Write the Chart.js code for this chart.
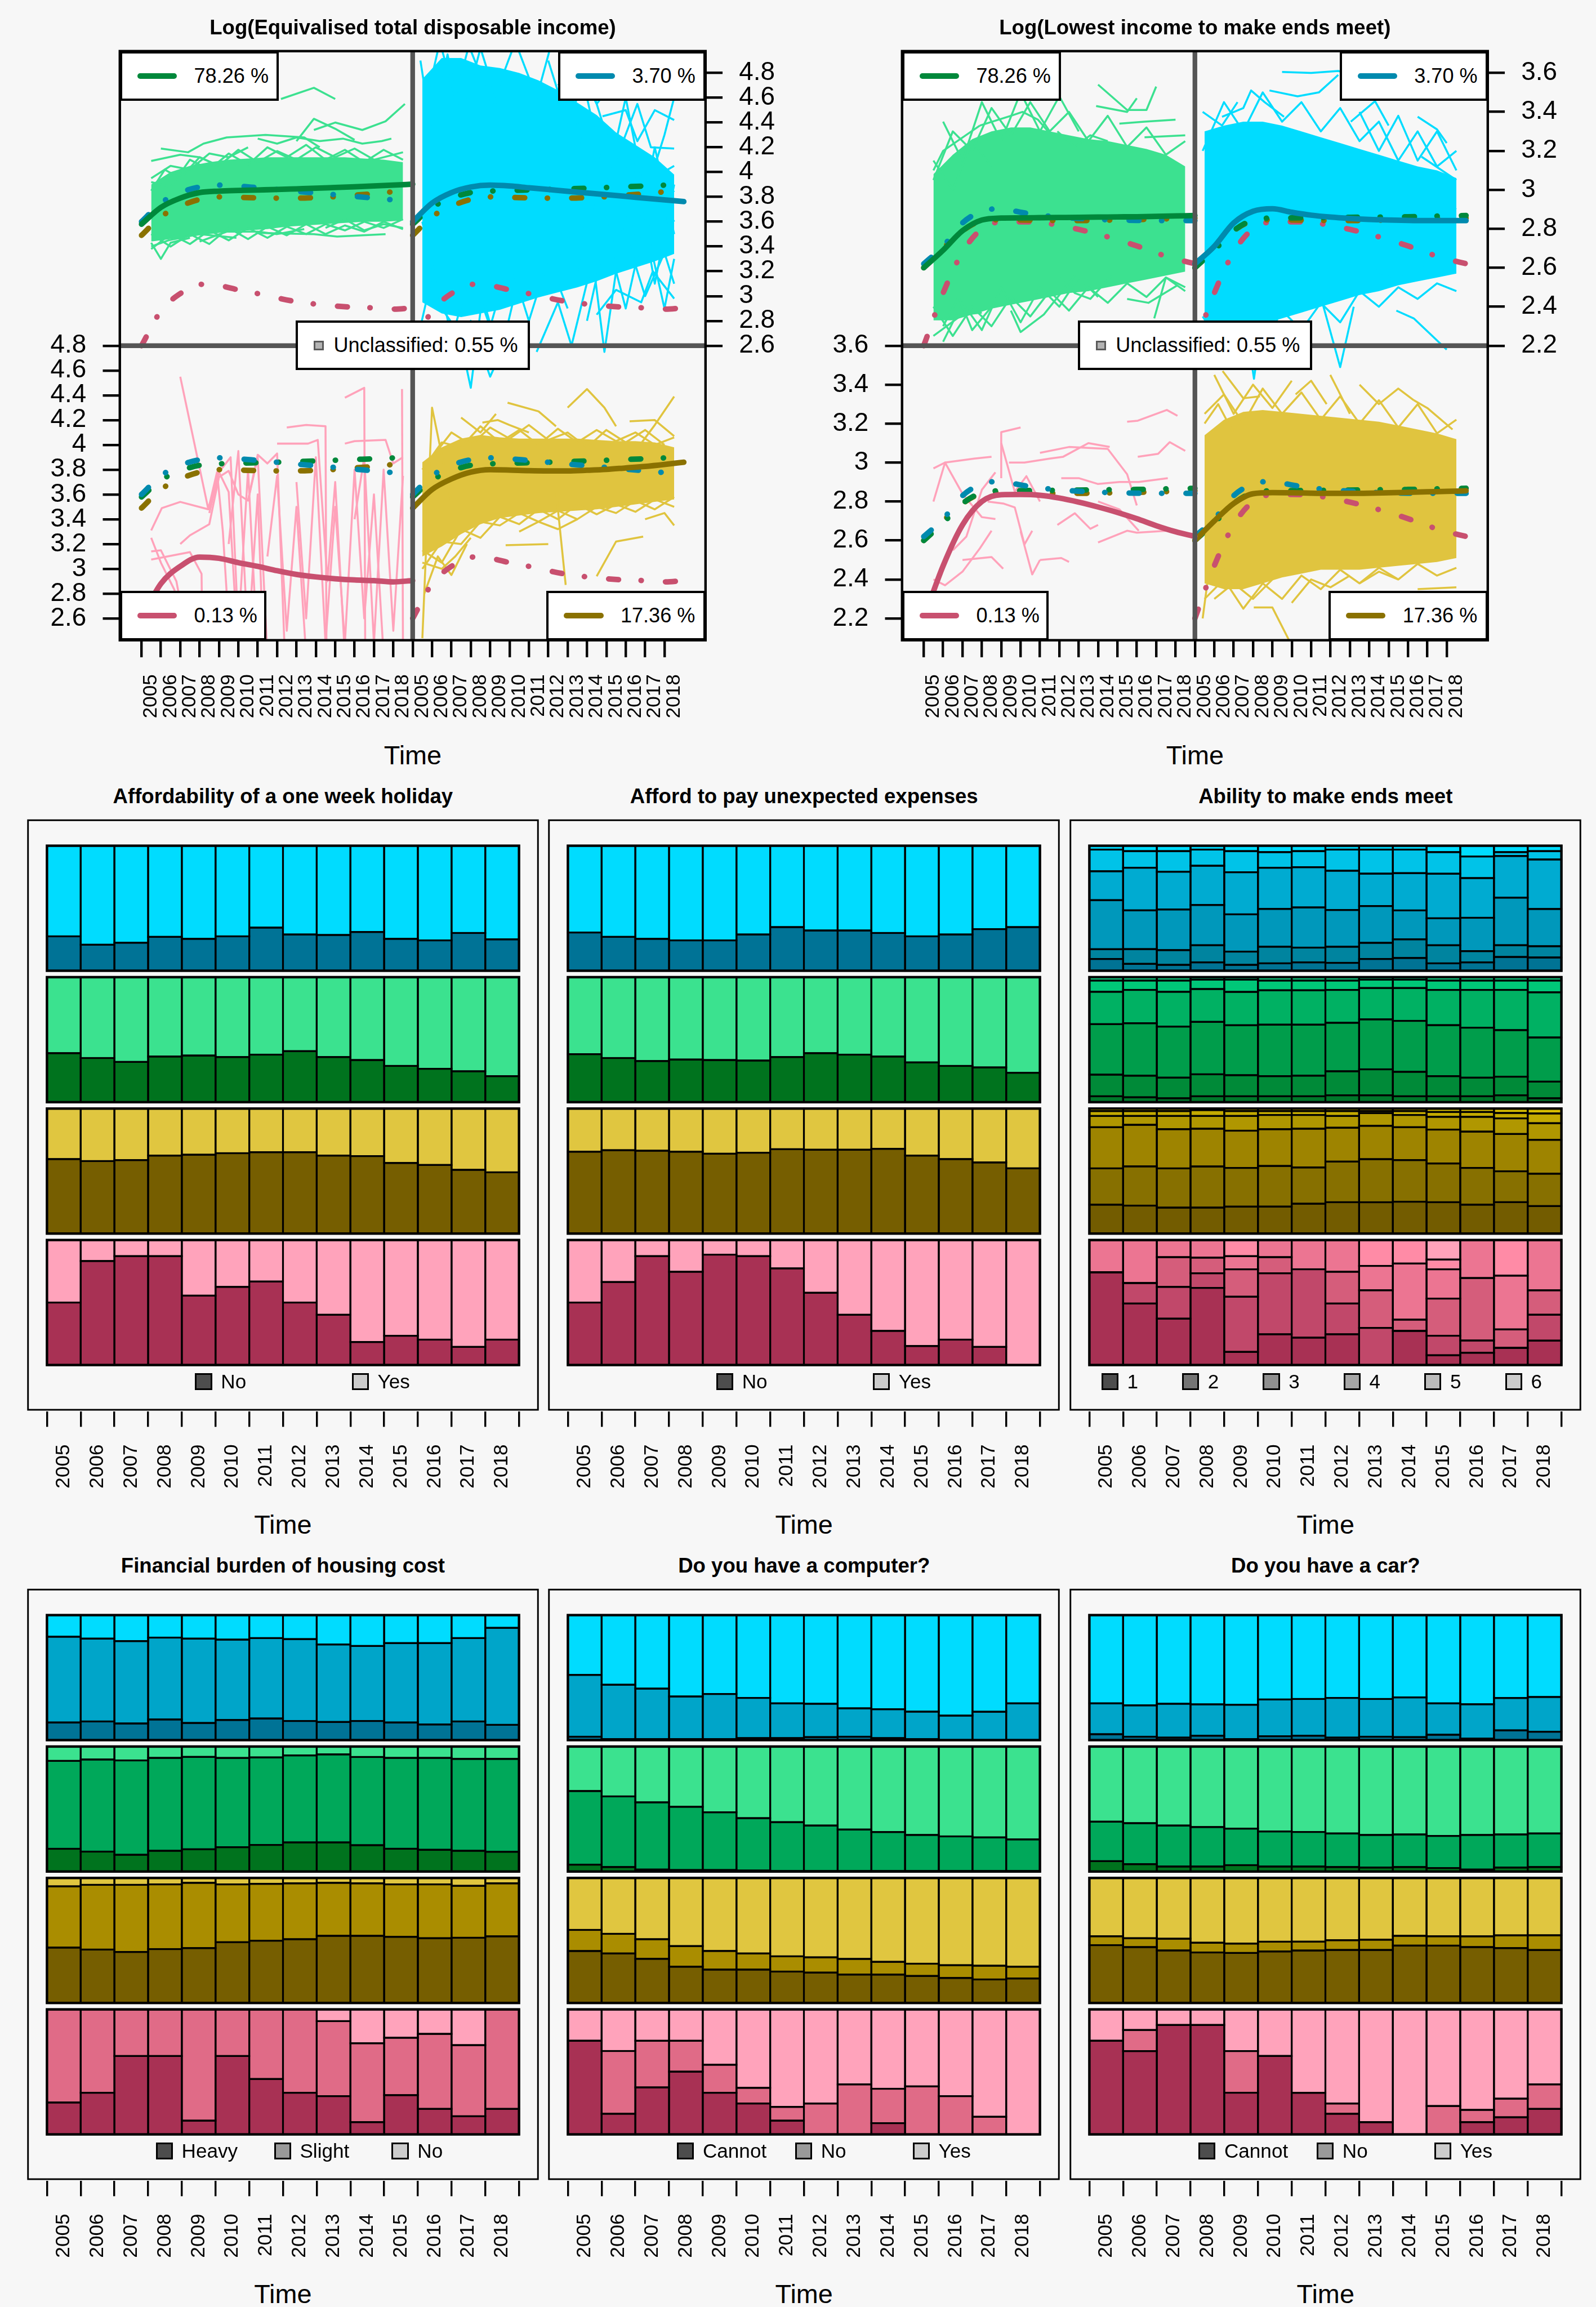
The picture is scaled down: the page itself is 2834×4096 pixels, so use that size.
<!DOCTYPE html>
<html>
<head>
<meta charset="utf-8">
<script src="https://cdn.jsdelivr.net/npm/chart.js"></script>
<style>
html, body { margin: 0; padding: 0; background: #f7f7f7; }
#page { position: relative; width: 2834px; height: 4096px; overflow: hidden; background: #f7f7f7;
        font-family: "Liberation Sans", Arial, Helvetica, sans-serif; }
canvas { position: absolute; }
.lab { position: absolute; white-space: nowrap; color: #000; line-height: 1; }
</style>
</head>
<body>
<div id="page"></div>
<script>
// ---------- data ----------
const years = ['2005','2006','2007','2008','2009','2010','2011','2012','2013','2014','2015','2016','2017','2018'];

// Log(Equivalised total disposable income): cluster mean curves, 2005..2019
const incMeanGreen = [3.58, 3.715, 3.79, 3.835, 3.847, 3.852, 3.856, 3.86, 3.865, 3.87, 3.876, 3.882, 3.888, 3.895, 3.903];
const incMeanCyan  = [3.60, 3.75, 3.835, 3.88, 3.895, 3.888, 3.874, 3.86, 3.845, 3.832, 3.818, 3.804, 3.79, 3.776, 3.762];
const incMeanOlive = [3.49, 3.64, 3.725, 3.78, 3.80, 3.797, 3.792, 3.79, 3.79, 3.795, 3.802, 3.814, 3.826, 3.842, 3.86];
const incMeanPink  = [2.60, 2.88, 3.02, 3.095, 3.085, 3.05, 3.02, 2.985, 2.955, 2.935, 2.92, 2.91, 2.905, 2.895, 2.905];
// dense core of the individual trajectories (upper / lower), 2005.5..2018.5
const incBandGreenHi = [3.90, 4.00, 4.05, 4.08, 4.10, 4.11, 4.12, 4.12, 4.12, 4.12, 4.12, 4.11, 4.10, 4.08];
const incBandGreenLo = [3.44, 3.46, 3.48, 3.50, 3.52, 3.53, 3.54, 3.56, 3.57, 3.58, 3.59, 3.60, 3.60, 3.61];
const incBandCyanHi  = [4.75, 4.92, 4.92, 4.86, 4.84, 4.80, 4.74, 4.66, 4.56, 4.46, 4.32, 4.22, 4.12, 3.98];
const incBandCyanLo  = [2.95, 2.86, 2.83, 2.86, 2.89, 2.94, 2.99, 3.03, 3.07, 3.12, 3.18, 3.23, 3.28, 3.34];
const incBandOliveHi = [3.86, 3.98, 4.05, 4.08, 4.06, 4.05, 4.05, 4.05, 4.05, 4.04, 4.03, 4.03, 4.02, 3.98];
const incBandOliveLo = [3.10, 3.18, 3.28, 3.36, 3.41, 3.43, 3.45, 3.46, 3.47, 3.48, 3.50, 3.52, 3.54, 3.56];
// single trajectories around the core: [time, value]
const incLinesGreen = [
  [[2012.2,4.59],[2013.9,4.68],[2015.0,4.59]],
  [[2013.9,4.34],[2015.0,4.40],[2016.4,4.34],[2017.6,4.41],[2018.6,4.55]],
  [[2013.0,4.25],[2013.9,4.43],[2015.0,4.35],[2016.0,4.26]],
  [[2005.5,4.09],[2007.0,4.14],[2008.0,4.12],[2009.0,4.05]],
  [[2006.0,4.19],[2007.4,4.16],[2008.2,4.23],[2009.4,4.28],[2011.4,4.30],[2013.4,4.28],[2014.2,4.20]],
  [[2011.0,4.27],[2012.0,4.23],[2013.0,4.28],[2014.2,4.25],[2015.4,4.27],[2016.4,4.23],[2017.4,4.25],[2017.9,4.27]],
  [[2005.5,3.43],[2006.0,3.30],[2006.5,3.43],[2007.5,3.47]],
  [[2008.0,3.44],[2009.4,3.52],[2011.0,3.52],[2012.0,3.50],[2013.4,3.54]],
  [[2011.0,3.51],[2013.9,3.50],[2015.1,3.48],[2017.6,3.50]],
  [[2005.5,3.40],[2006.4,3.45],[2008.0,3.50],[2009.9,3.47]],
  [[2005.5,3.95],[2006.5,4.05],[2007.5,4.02],[2008.5,4.15],[2009.5,4.12],[2010.5,4.20]],
  [[2014.5,3.55],[2015.5,3.62],[2016.5,3.53],[2017.5,3.58],[2018.5,3.55]],
  [[2005.5,3.85],[2006.2,4.02],[2007.0,3.95],[2008.0,4.12],[2009.0,4.05],[2010.0,4.18],[2011.0,4.08],[2012.0,4.17],[2013.0,4.10],[2014.0,4.20],[2015.0,4.12],[2016.0,4.19],[2017.0,4.10],[2018.5,4.16]],
  [[2005.5,3.92],[2006.5,3.88],[2007.5,4.10],[2008.5,4.02],[2009.5,4.15],[2010.5,4.06],[2011.5,4.20],[2012.5,4.12],[2013.5,4.22],[2014.5,4.10],[2015.5,4.18],[2016.5,4.08],[2017.5,4.18],[2018.5,4.10]],
  [[2005.5,3.50],[2006.5,3.40],[2007.5,3.50],[2008.5,3.42],[2009.5,3.55],[2010.5,3.46],[2011.5,3.56],[2012.5,3.49],[2013.5,3.58],[2014.5,3.50],[2015.5,3.57],[2016.5,3.52],[2017.5,3.60],[2018.5,3.54]],
  [[2005.5,3.38],[2006.5,3.50],[2007.5,3.42],[2008.5,3.53],[2009.5,3.45],[2010.5,3.55],[2011.5,3.47],[2012.5,3.56],[2013.5,3.50],[2014.5,3.58],[2015.5,3.53],[2016.5,3.60],[2017.5,3.55],[2018.5,3.62]]
];
const incLinesCyan = [
  [[2005.5,3.60],[2006.5,2.90],[2007.4,2.70],[2008.0,2.26],[2008.6,3.00],[2009.5,2.50],[2010.4,3.10]],
  [[2011.4,2.55],[2012.5,2.95],[2013.2,2.60],[2014.3,3.30],[2014.9,2.55],[2015.5,3.20]],
  [[2005.6,4.50],[2006.4,5.05],[2007.2,4.60],[2007.9,5.02],[2009.1,4.55],[2010.3,5.05],[2011.4,4.60],[2012.1,5.00]],
  [[2014.8,4.45],[2016.0,4.50],[2016.6,4.25],[2017.5,4.50],[2018.5,4.42]],
  [[2015.5,4.10],[2016.6,4.55],[2017.3,4.20],[2018.5,4.19]],
  [[2015.0,3.70],[2016.3,4.10],[2017.4,3.95],[2018.5,4.05]],
  [[2014.9,3.20],[2016.0,3.50],[2017.0,3.00],[2018.0,3.35],[2018.5,3.10]],
  [[2014.5,2.85],[2015.5,3.05],[2016.8,2.95],[2017.4,3.20],[2018.5,2.98]],
  [[2016.0,3.80],[2017.2,3.95],[2018.5,3.60]],
  [[2012.5,4.70],[2013.5,4.85],[2014.5,4.55],[2015.5,4.75]],
  [[2007.0,2.55],[2008.0,2.80],[2009.0,2.35],[2010.0,2.70],[2011.0,2.45]],
  [[2016.5,3.30],[2017.5,3.70],[2018.5,3.85]],
  [[2013.5,4.40],[2014.5,3.60],[2015.5,4.30],[2016.5,3.40],[2017.5,4.20],[2018.5,3.50]],
  [[2013.5,3.20],[2014.5,4.10],[2015.5,3.30],[2016.5,4.00],[2017.5,3.10],[2018.5,3.90]],
  [[2014.0,4.60],[2015.0,3.90],[2016.0,4.60],[2017.0,3.80],[2018.0,4.30],[2018.5,4.60]],
  [[2014.0,2.80],[2015.0,3.50],[2016.0,2.90],[2017.0,3.60],[2018.0,2.90],[2018.5,3.30]],
  [[2005.4,4.90],[2006.0,4.30],[2006.8,4.95],[2007.5,4.40],[2008.5,5.00],[2009.5,4.50]],
  [[2005.4,2.75],[2006.2,3.30],[2007.0,2.65],[2008.0,3.20],[2009.0,2.75],[2010.0,3.30],[2011.0,2.80],[2012.0,3.30],[2013.0,2.90]],
  [[2012.0,4.90],[2013.0,4.40],[2014.0,4.80],[2015.0,4.30]]
];
const incLinesPink = [
  [[2005.5,3.31],[2006.05,3.49],[2007.0,3.54],[2008.45,3.48],[2009.0,3.78],[2009.5,3.62],[2010.0,2.3]],
  [[2005.5,3.25],[2006.0,3.05],[2006.7,2.83],[2007.3,2.3]],
  [[2005.5,3.14],[2006.0,3.15],[2006.8,2.9],[2007.4,2.4]],
  [[2005.5,3.075],[2007.5,3.135],[2008.1,2.96],[2008.15,2.3]],
  [[2007.0,3.2],[2007.5,3.27],[2008.5,3.36],[2009.0,3.74],[2009.5,3.79],[2010.0,3.6],[2010.5,3.55],[2011.0,3.9],[2011.5,2.3]],
  [[2007.0,4.55],[2008.45,3.48],[2008.9,3.78],[2009.2,3.3],[2009.6,2.3]],
  [[2008.5,3.45],[2009.0,3.78],[2009.6,3.9],[2010.0,2.5],[2010.5,3.8],[2011.0,2.3]],
  [[2010.5,3.55],[2011.0,3.92],[2011.5,3.85],[2012.0,3.93],[2012.4,2.3]],
  [[2012.0,4.01],[2013.6,4.01],[2014.1,4.04],[2014.6,2.9],[2015.0,3.7],[2015.5,2.3]],
  [[2012.5,4.14],[2013.5,4.16],[2014.5,4.15],[2014.55,2.3]],
  [[2015.5,4.38],[2016.5,4.46],[2016.55,2.3]],
  [[2015.5,4.01],[2016.0,4.03],[2017.6,4.04],[2018.0,3.85],[2018.5,3.9]],
  [[2018.45,4.45],[2018.5,2.3]],
  [[2011.5,3.1],[2012.0,3.75],[2012.5,2.5],[2013.0,3.5],[2013.5,2.3]],
  [[2013.0,3.7],[2013.5,2.6],[2014.0,3.9],[2014.5,2.4],[2015.0,3.5],[2015.5,2.4],[2016.0,3.8],[2016.5,2.6],[2017.0,3.6],[2017.5,2.3]],
  [[2009.5,3.2],[2010.0,3.95],[2010.5,2.4],[2011.0,3.6],[2011.3,2.3]],
  [[2016.0,3.4],[2016.5,3.9],[2017.0,2.4],[2017.5,3.8],[2018.0,2.5],[2018.5,3.75]]
];
const incLinesOlive = [
  [[2005.5,2.44],[2006.0,4.30],[2007.0,3.54]],
  [[2009.9,4.34],[2011.5,4.27],[2012.4,4.15]],
  [[2013.0,4.30],[2014.0,4.45],[2014.9,4.30],[2015.5,4.15]],
  [[2016.5,3.95],[2017.5,4.16],[2018.5,4.39]],
  [[2016.2,4.19],[2017.5,4.20],[2018.5,4.07]],
  [[2012.4,3.63],[2012.9,2.87]],
  [[2014.5,2.94],[2015.5,3.22],[2016.9,3.26]],
  [[2009.8,3.19],[2012.0,3.20]],
  [[2008.6,4.18],[2009.4,4.20],[2010.0,4.16],[2011.0,4.10]],
  [[2005.5,3.05],[2006.5,3.00],[2007.2,3.10],[2008.0,3.25]],
  [[2005.6,2.80],[2006.3,3.10],[2007.0,2.95],[2007.8,3.20]],
  [[2007.5,4.22],[2008.5,4.10],[2009.3,4.25]],
  [[2010.5,3.30],[2011.5,3.38],[2012.5,3.32],[2013.5,3.40]],
  [[2017.0,3.40],[2018.0,3.45],[2018.5,3.35]],
  [[2005.5,3.80],[2006.5,4.02],[2007.5,3.98],[2008.5,4.15],[2009.5,4.02],[2010.5,4.12],[2011.5,4.00],[2012.5,4.13],[2013.5,4.02],[2014.5,4.12],[2015.5,4.03],[2016.5,4.10],[2017.5,4.00],[2018.5,4.06]],
  [[2006.0,3.90],[2007.0,4.10],[2008.0,4.00],[2009.0,4.14],[2010.0,4.05],[2011.0,4.16],[2012.0,4.04],[2013.0,4.10],[2014.0,3.98],[2015.0,4.12],[2016.0,4.02],[2017.0,4.12],[2018.0,4.00]],
  [[2005.5,3.00],[2006.5,3.22],[2007.5,3.20],[2008.5,3.38],[2009.5,3.35],[2010.5,3.45],[2011.5,3.38],[2012.5,3.47],[2013.5,3.40],[2014.5,3.50],[2015.5,3.45],[2016.5,3.55],[2017.5,3.48],[2018.5,3.58]],
  [[2005.5,3.15],[2006.5,3.05],[2007.5,3.32],[2008.5,3.25],[2009.5,3.42],[2010.5,3.36],[2011.5,3.48],[2012.5,3.40],[2013.5,3.52],[2014.5,3.44],[2015.5,3.52],[2016.5,3.46],[2017.5,3.56],[2018.5,3.50]]
];

// Log(Lowest income to make ends meet)
const lowMeanGreen = [2.60, 2.69, 2.79, 2.845, 2.855, 2.856, 2.857, 2.858, 2.859, 2.86, 2.861, 2.862, 2.864, 2.866, 2.868];
const lowMeanCyan  = [2.62, 2.71, 2.83, 2.89, 2.903, 2.885, 2.87, 2.86, 2.853, 2.848, 2.845, 2.843, 2.842, 2.842, 2.842];
const lowMeanOlive = [2.60, 2.70, 2.79, 2.84, 2.846, 2.845, 2.843, 2.842, 2.842, 2.843, 2.845, 2.847, 2.85, 2.852, 2.855];
const lowMeanPink  = [2.20, 2.47, 2.68, 2.80, 2.835, 2.836, 2.832, 2.818, 2.797, 2.772, 2.744, 2.712, 2.676, 2.645, 2.621];
const lowBandGreenHi = [3.08, 3.18, 3.26, 3.30, 3.32, 3.32, 3.30, 3.28, 3.26, 3.25, 3.23, 3.21, 3.18, 3.12];
const lowBandGreenLo = [2.33, 2.33, 2.36, 2.39, 2.41, 2.43, 2.45, 2.47, 2.48, 2.50, 2.52, 2.54, 2.56, 2.58];
const lowBandCyanHi  = [3.30, 3.33, 3.35, 3.35, 3.33, 3.30, 3.27, 3.24, 3.21, 3.18, 3.15, 3.12, 3.10, 3.06];
const lowBandCyanLo  = [2.28, 2.27, 2.28, 2.31, 2.34, 2.37, 2.40, 2.43, 2.46, 2.48, 2.51, 2.53, 2.55, 2.57];
const lowBandOliveHi = [3.14, 3.22, 3.26, 3.27, 3.26, 3.25, 3.24, 3.23, 3.22, 3.21, 3.19, 3.17, 3.15, 3.12];
const lowBandOliveLo = [2.38, 2.35, 2.35, 2.38, 2.41, 2.43, 2.45, 2.45, 2.45, 2.46, 2.47, 2.48, 2.49, 2.51];
const lowLinesGreen = [
  [[2014.0,3.54],[2015.5,3.41],[2016.5,3.41],[2017.0,3.53]],
  [[2013.9,3.43],[2015.5,3.40],[2016.0,3.47]],
  [[2015.1,3.34],[2016.4,3.35],[2018.0,3.36]],
  [[2016.4,3.27],[2018.5,3.28]],
  [[2007.9,3.33],[2009.5,3.38],[2010.1,3.40],[2010.9,3.36],[2011.5,3.29]],
  [[2005.5,3.10],[2006.0,3.20],[2007.9,3.33]],
  [[2011.9,3.30],[2012.8,3.22],[2013.6,3.28],[2014.5,3.25]],
  [[2005.5,2.25],[2007.0,2.36],[2008.0,2.37]],
  [[2009.5,2.38],[2010.0,2.27],[2011.2,2.36],[2012.8,2.56]],
  [[2011.9,2.56],[2012.8,2.47],[2013.6,2.44],[2014.7,2.56]],
  [[2015.5,2.44],[2016.6,2.42],[2018.1,2.51]],
  [[2006.0,2.30],[2006.8,2.45],[2007.5,2.28],[2008.5,2.40]],
  [[2016.9,2.34],[2017.5,2.55],[2018.5,2.48]],
  [[2005.5,3.15],[2006.5,3.00],[2007.5,3.25],[2008.5,3.12]],
  [[2005.5,3.05],[2006.5,3.30],[2007.5,3.20],[2008.5,3.42],[2009.5,3.28],[2010.5,3.45],[2011.5,3.30],[2012.5,3.40],[2013.5,3.25],[2014.5,3.38],[2015.5,3.22],[2016.5,3.32],[2017.5,3.18],[2018.5,3.25]],
  [[2005.5,2.40],[2006.5,2.25],[2007.5,2.40],[2008.5,2.30],[2009.5,2.45],[2010.5,2.35],[2011.5,2.48],[2012.5,2.38],[2013.5,2.50],[2014.5,2.42],[2015.5,2.52],[2016.5,2.45],[2017.5,2.55],[2018.5,2.50]],
  [[2006.0,3.35],[2007.0,3.15],[2008.0,3.45],[2009.0,3.25],[2010.0,3.50],[2011.0,3.30],[2012.0,3.48],[2013.0,3.30]],
  [[2006.0,2.22],[2007.0,2.42],[2008.0,2.28],[2009.0,2.50],[2010.0,2.32],[2011.0,2.50],[2012.0,2.40],[2013.0,2.55],[2014.0,2.45]]
];
const lowLinesCyan = [
  [[2009.5,3.605],[2011.0,3.60],[2012.4,3.61],[2013.5,3.58]],
  [[2008.85,3.51],[2010.3,3.48],[2011.4,3.50],[2012.4,3.59]],
  [[2006.4,3.375],[2007.5,3.42],[2007.9,3.51],[2008.6,3.45],[2009.6,3.375]],
  [[2005.4,3.40],[2006.4,3.33],[2007.2,3.45]],
  [[2013.05,3.35],[2014.3,3.455],[2015.0,3.33]],
  [[2016.5,3.375],[2017.5,3.31],[2018.0,3.24]],
  [[2016.7,3.17],[2018.5,3.05]],
  [[2015.4,2.38],[2016.3,2.34],[2018.0,2.18]],
  [[2011.5,2.45],[2012.5,2.09],[2013.2,2.40]],
  [[2007.5,2.40],[2008.05,2.03],[2008.5,2.35]],
  [[2014.3,2.59],[2015.4,2.53],[2016.5,2.61],[2017.5,2.58],[2018.5,2.63]],
  [[2015.3,2.90],[2016.8,2.96],[2018.5,2.90]],
  [[2005.5,2.30],[2006.5,2.25],[2007.0,2.40]],
  [[2005.4,3.20],[2006.5,3.45],[2007.5,3.30],[2008.5,3.50],[2009.5,3.35],[2010.5,3.45],[2011.5,3.30],[2012.5,3.42],[2013.5,3.25],[2014.5,3.35],[2015.5,3.15],[2016.5,3.30],[2017.5,3.12],[2018.5,3.20]],
  [[2005.4,2.35],[2006.5,2.18],[2007.5,2.30],[2008.5,2.20],[2009.5,2.38],[2010.5,2.28],[2011.5,2.42],[2012.5,2.32],[2013.5,2.48],[2014.5,2.40],[2015.5,2.50],[2016.5,2.44],[2017.5,2.52],[2018.5,2.48]],
  [[2013.5,3.40],[2014.5,3.20],[2015.5,3.38],[2016.5,3.15],[2017.5,3.30],[2018.5,3.10]]
];
const lowLinesPink = [
  [[2005.5,2.97],[2006.1,3.00],[2007.6,3.02],[2008.5,3.03]],
  [[2005.5,2.80],[2006.1,3.00],[2007.0,2.84],[2008.0,2.72],[2008.7,2.71]],
  [[2009.0,2.92],[2009.0,3.156],[2010.0,3.18]],
  [[2011.0,3.05],[2012.5,3.08],[2014.5,3.07],[2015.5,2.94],[2016.0,2.78]],
  [[2009.4,3.0],[2010.2,3.0],[2011.5,3.02],[2012.2,3.03],[2013.5,3.10],[2014.6,3.08]],
  [[2015.5,3.21],[2016.05,3.215],[2017.55,3.27],[2018.1,3.24]],
  [[2012.1,2.92],[2013.0,2.92],[2014.0,2.89],[2015.1,2.90],[2016.1,2.90],[2017.6,2.92]],
  [[2014.0,2.59],[2015.5,2.65],[2016.0,2.64],[2017.6,2.65]],
  [[2011.0,2.50],[2012.1,2.51],[2012.5,2.49]],
  [[2007.0,2.50],[2008.5,2.515],[2009.1,2.455]],
  [[2010.0,2.647],[2010.6,2.426],[2011.0,2.50]],
  [[2005.5,2.40],[2006.1,2.37],[2007.0,2.44],[2007.9,2.56],[2008.5,2.65]],
  [[2008.3,2.80],[2009.1,2.79],[2009.7,2.77],[2010.2,2.58],[2010.6,2.65]],
  [[2014.0,2.80],[2015.1,2.76],[2016.1,2.65]],
  [[2016.05,3.03],[2017.1,3.045],[2017.7,3.105],[2018.5,3.06]],
  [[2011.9,2.68],[2012.8,2.74],[2013.6,2.66],[2014.0,2.68]],
  [[2009.0,3.10],[2009.7,2.85],[2010.3,2.93],[2011.0,2.80]],
  [[2006.5,2.55],[2007.2,2.62],[2008.0,2.86],[2008.7,2.95]]
];
const lowLinesOlive = [
  [[2011.99,3.45],[2012.4,3.37],[2013.0,3.25]],
  [[2006.43,3.47],[2007.5,3.33],[2008.36,3.34]],
  [[2016.3,3.32],[2017.0,3.28],[2018.3,3.17]],
  [[2008.04,2.256],[2009.0,2.256],[2009.85,2.09]],
  [[2016.5,2.35],[2018.5,2.36]],
  [[2005.4,2.20],[2005.8,2.50],[2006.5,2.45]],
  [[2010.2,3.35],[2011.0,3.42],[2011.8,3.30]],
  [[2013.5,3.40],[2014.5,3.30],[2015.5,3.38],[2016.3,3.32]],
  [[2006.0,2.30],[2007.0,2.38],[2008.0,2.30],[2009.0,2.40]],
  [[2010.0,2.28],[2011.0,2.40],[2012.0,2.36],[2013.0,2.42]],
  [[2013.5,2.38],[2014.5,2.44],[2015.5,2.40]],
  [[2005.5,3.20],[2006.2,3.30],[2007.0,3.15]],
  [[2005.5,3.25],[2006.5,3.35],[2007.5,3.20],[2008.5,3.38],[2009.5,3.25],[2010.5,3.36],[2011.5,3.22],[2012.5,3.34],[2013.5,3.20],[2014.5,3.32],[2015.5,3.18],[2016.5,3.30],[2017.5,3.15],[2018.5,3.22]],
  [[2005.5,2.30],[2006.5,2.40],[2007.5,2.25],[2008.5,2.38],[2009.5,2.30],[2010.5,2.42],[2011.5,2.35],[2012.5,2.45],[2013.5,2.38],[2014.5,2.46],[2015.5,2.40],[2016.5,2.48],[2017.5,2.42],[2018.5,2.46]],
  [[2006.0,3.45],[2007.0,3.25],[2008.0,3.40],[2009.0,3.28],[2010.0,3.42]]
];
const incTicks = [2.6, 2.8, 3, 3.2, 3.4, 3.6, 3.8, 4, 4.2, 4.4, 4.6, 4.8];
const lowTicks = [2.2, 2.4, 2.6, 2.8, 3, 3.2, 3.4, 3.6];
const clusterShares = ['78.26 %', '3.70 %', '0.13 %', '17.36 %'];
const unclassified = 'Unclassified: 0.55 %';

// Mosaic panels: shares (%) per year
const holidayNoCyan  = [27.5, 20.8, 22.4, 27.1, 25.5, 27.5, 34.5, 29.0, 28.6, 31.0, 25.5, 24.3, 30.2, 25.1];
const holidayNoGreen = [39.2, 35.3, 32.2, 36.5, 37.3, 36.1, 38.0, 40.8, 36.1, 33.7, 29.0, 26.7, 24.7, 20.8];
const holidayNoOlive = [59.6, 58.0, 58.8, 62.4, 63.1, 64.3, 65.1, 65.1, 62.4, 62.0, 56.5, 54.9, 51.0, 49.0];
const holidayNoPink  = [50.0, 83.2, 87.1, 87.1, 55.5, 62.5, 66.8, 50.0, 40.2, 18.4, 23.4, 20.3, 14.5, 20.3];
const expensesNoCyan  = [30.6, 27.1, 25.5, 24.3, 24.3, 29.0, 34.9, 32.2, 32.2, 30.2, 27.5, 29.0, 33.3, 34.9];
const expensesNoGreen = [38.4, 35.3, 32.9, 34.1, 33.7, 33.3, 36.1, 39.2, 38.0, 36.5, 31.8, 29.0, 27.8, 23.5];
const expensesNoOlive = [65.5, 66.7, 66.3, 65.5, 63.9, 64.7, 67.5, 67.1, 67.1, 67.8, 62.4, 59.6, 56.9, 52.2];
const expensesNoPink  = [50.0, 66.4, 87.1, 74.6, 88.3, 87.1, 77.3, 57.8, 40.2, 27.3, 15.2, 20.3, 14.5, 0];

// Ability to make ends meet, categories 1..6
const endsCyan = [
  [9.4,7.8,39.2,23.1,17.3,3.1],[5.5,11.8,31.0,34.1,13.3,4.3],[4.7,11.8,32.5,30.2,16.5,4.3],[6.7,13.7,32.2,31.4,12.9,3.1],
  [4.7,10.6,29.8,33.7,16.9,4.3],[5.9,13.3,30.2,32.9,12.5,5.1],[6.7,11.8,32.2,32.2,12.9,4.3],[6.3,12.9,29.4,31.4,16.9,3.1],
  [9.4,12.9,29.4,25.9,19.2,3.1],[10.2,14.9,23.1,29.8,18.8,3.1],[5.9,14.5,21.6,35.7,17.3,5.1],[6.7,9.0,26.7,31.8,17.3,8.6],
  [11.0,9.4,38.0,33.3,3.1,5.1],[10.6,9.0,29.8,39.6,6.7,4.3]
];
const endsGreen = [
  [4.7,17.3,40.4,25.9,9.0,2.7],[3.9,17.3,42.0,26.7,7.5,2.7],[3.1,16.5,40.8,27.8,9.0,2.7],[4.7,17.6,42.0,26.3,7.5,2.0],
  [4.7,16.9,40.0,26.7,9.8,2.0],[4.7,16.1,41.2,27.5,7.8,2.7],[4.7,16.5,40.8,27.5,7.8,2.7],[5.5,19.2,38.8,26.3,7.5,2.7],
  [5.5,20.8,40.0,25.1,6.7,2.0],[4.7,19.6,40.8,26.3,6.7,2.0],[4.7,16.1,40.8,28.2,7.5,2.7],[4.7,14.9,40.0,30.2,7.5,2.7],
  [5.5,14.9,37.3,32.2,7.5,2.7],[3.1,13.3,35.3,36.1,9.4,2.7]
];
const endsOlive = [
  [23.1,29.0,32.9,9.0,3.9,2.0],[22.4,31.4,33.3,7.1,3.9,2.0],[20.8,31.4,31.4,10.6,3.9,2.0],[20.8,32.9,30.2,10.2,4.7,1.2],
  [21.6,31.0,29.8,11.8,3.9,2.0],[21.6,32.5,29.4,11.4,3.1,2.0],[23.9,29.0,31.0,11.0,3.1,2.0],[25.1,32.5,27.1,9.4,3.9,2.0],
  [25.1,34.5,26.7,10.2,1.6,2.0],[25.5,33.3,26.3,9.8,3.1,2.0],[25.1,31.0,27.1,10.2,3.9,2.7],[23.1,29.4,29.0,11.8,3.9,2.7],
  [25.1,24.7,29.8,12.5,4.3,3.5],[22.0,25.9,27.1,13.3,7.8,3.9]
];
const endsPink = [
  [74.2,0,0,25.8,0,0],[49.2,16.4,0,34.4,0,0],[37.1,25.4,23.8,13.7,0,0],[61.7,11.7,12.5,14.1,0,0],
  [10.5,44.1,21.9,10.5,12.9,0],[24.6,48.8,12.9,13.7,0,0],[21.9,54.7,0,23.4,0,0],[24.6,24.6,25.4,25.4,0,0],
  [0,29.7,30.1,19.5,20.7,0],[27.3,0,9.0,44.9,18.8,0],[7.8,15.6,29.7,23.4,7.8,15.6],[9.8,9.8,50.0,30.4,0,0],
  [13.7,0,14.8,43.0,28.5,0],[19.5,20.7,19.5,40.2,0,0]
];

// Financial burden of housing cost: Heavy, Slight, No
const housingCyan = [
  [14.1,68.6,17.3],[14.9,66.3,18.8],[13.3,65.9,20.8],[16.5,65.5,18.0],[13.7,67.5,18.8],[16.1,64.3,19.6],[17.3,64.3,18.4],
  [15.3,65.5,19.2],[14.5,62.0,23.5],[15.3,60.0,24.7],[14.1,63.5,22.4],[12.5,65.1,22.4],[14.9,66.7,18.4],[12.2,77.6,10.2]
];
const housingGreen = [
  [18.2,70.4,11.5],[15.8,73.1,10.3],[13.4,75.5,11.1],[16.6,74.3,9.1],[17.8,73.9,8.3],[19.4,71.1,9.1],[21.3,70.0,8.7],
  [23.3,69.6,7.1],[23.3,70.4,6.3],[20.9,70.0,8.3],[18.2,72.7,9.1],[17.4,73.5,9.1],[16.6,73.5,9.9],[15.8,74.3,9.9]
];
const housingOlive = [
  [44.3,49.0,6.7],[42.7,51.8,5.5],[40.8,53.7,5.5],[43.1,51.8,5.1],[43.9,52.2,3.9],[48.6,46.3,5.1],[49.8,45.5,4.7],
  [51.0,44.7,4.3],[53.7,42.4,3.9],[53.7,42.0,4.3],[52.9,42.0,5.1],[51.8,43.1,5.1],[52.2,41.6,6.3],[53.3,42.4,4.3]
];
const housingPink = [
  [25.5,74.5,0],[33.3,66.7,0],[62.7,37.3,0],[62.7,37.3,0],[11.0,89.0,0],[62.7,37.3,0],[44.3,55.7,0],
  [33.3,66.7,0],[30.6,60.0,9.4],[9.8,63.1,27.1],[31.4,45.9,22.7],[20.4,60.0,19.6],[14.5,56.9,28.6],[20.4,79.6,0]
];

// Do you have a computer? Cannot, No, Yes
const computerCyan = [
  [2.7,49.4,47.8],[0.8,43.5,55.7],[0.8,40.4,58.8],[0.8,34.1,65.1],[0.8,36.1,63.1],[1.6,32.2,66.3],[1.6,27.8,70.6],
  [2.4,26.7,71.0],[2.7,22.7,74.5],[1.6,23.1,75.3],[0.8,22.0,77.3],[0,19.6,80.4],[0,22.7,77.3],[0,29.4,70.6]
];
const computerGreen = [
  [5.5,58.9,35.6],[3.6,56.5,39.9],[1.6,53.8,44.7],[1.2,50.6,48.2],[1.2,46.2,52.6],[0.8,41.9,57.3],[0.4,39.1,60.5],
  [0.4,36.4,63.2],[0.4,33.2,66.4],[0.4,31.2,68.4],[0.4,28.9,70.8],[0.4,27.7,71.9],[0.4,26.9,72.7],[0.4,25.3,74.3]
];
const computerOlive = [
  [41.6,16.9,41.6],[39.6,15.7,44.7],[35.3,15.7,49.0],[29.0,16.5,54.5],[26.7,14.9,58.4],[26.7,12.9,60.4],[25.1,12.2,62.7],
  [24.3,12.2,63.5],[22.7,12.5,64.7],[22.7,10.2,67.1],[21.6,9.8,68.6],[20.0,10.2,69.8],[18.8,11.0,70.2],[19.6,9.4,71.0]
];
const computerPink = [
  [74.9,0,25.1],[16.5,50.2,33.3],[37.6,37.3,25.1],[50.2,24.7,25.1],[33.3,22.4,44.3],[24.7,12.5,62.7],[11.0,11.0,78.0],
  [0,24.7,75.3],[0,40.0,60.0],[9.0,27.5,63.5],[0,38.4,61.6],[0,30.6,69.4],[0,14.1,85.9],[0,0,100]
];

// Do you have a car? Cannot, No, Yes
const carCyan = [
  [4.7,24.7,70.6],[2.7,25.1,72.2],[2.0,27.1,71.0],[3.5,25.1,71.4],[0.8,27.5,71.8],[3.1,29.4,67.5],[3.5,29.4,67.1],
  [2.0,31.8,66.3],[2.7,30.2,67.1],[2.4,31.8,65.9],[4.3,25.1,70.6],[1.2,27.5,71.4],[7.8,25.9,66.3],[6.7,27.8,65.5]
];
const carGreen = [
  [8.3,31.6,60.1],[5.9,32.8,61.3],[4.0,32.8,63.2],[4.0,31.6,64.4],[5.1,29.2,65.6],[4.0,28.1,68.0],[4.0,27.7,68.4],
  [3.6,26.9,69.6],[3.2,26.1,70.8],[3.6,26.1,70.4],[2.8,25.7,71.5],[1.6,27.7,70.8],[3.2,26.5,70.4],[3.6,26.9,69.6]
];
const carOlive = [
  [46.3,7.1,46.7],[44.7,7.1,48.2],[42.0,9.4,48.6],[40.4,7.8,51.8],[40.0,7.5,52.5],[41.2,7.8,51.0],[42.0,7.1,51.0],
  [42.4,7.8,49.8],[42.4,8.2,49.4],[45.9,7.8,46.3],[45.9,7.5,46.7],[44.7,8.6,46.7],[43.9,10.2,45.9],[42.4,11.8,45.9]
];
const carPink = [
  [74.9,0,25.1],[66.7,16.9,16.5],[87.5,0,12.5],[87.5,0,12.5],[33.3,33.3,33.3],[62.7,0,37.3],[33.3,0,66.7],
  [16.5,8.2,75.3],[9.8,0,90.2],[0,0,100],[0,22.7,77.3],[9.8,9.8,80.4],[13.7,14.9,71.4],[20.4,19.6,60.0]
];

// ---------- styles ----------
const lineCol = {g: '#3ce190', c: '#00dcff', o: '#e0c43f', pk: '#ffa2ba'};
const meanCol = {g: '#00883b', c: '#008aae', o: '#8a7100', pk: '#c8506f'};
const pal2 = [['#007396','#00dcff'], ['#00731e','#3be28f'], ['#765e00','#e0c640'], ['#a83154','#ffa3bb']];
const pal3 = [['#007396','#00a5c9','#00dcff'], ['#00731e','#00a85a','#3be28f'], ['#765e00','#aa8d00','#e0c640'], ['#a83154','#e06b87','#ffa3bb']];
const pal6 = [
  ['#007394','#00849f','#0098bb','#00abd1','#00c3e8','#00dcff'],
  ['#00772a','#008a38','#009d4b','#00b163','#00c778','#10d888'],
  ['#735c00','#877000','#9e8400','#b09700','#c3a900','#d7bc00'],
  ['#a83154','#c1486a','#d55d7b','#ec7592','#ff8ba6','#ffa3bb']
];
const greys2 = ['#4d4d4d', '#cccccc'];
const greys3 = ['#4d4d4d', '#9a9a9a', '#cccccc'];
const greys6 = ['#4d4d4d', '#747474', '#8f8f8f', '#a6a6a6', '#bbbbbb', '#cccccc'];

// ---------- helpers ----------
const S = 0.976;
const s = v => v * S;
const page = document.getElementById('page');

Chart.defaults.font.family = "'Liberation Sans', Arial, Helvetica, sans-serif";
Chart.defaults.color = '#000';
Chart.defaults.animation = false;

function makeCanvas(x, y, w, h) {
  const c = document.createElement('canvas');
  c.width = Math.round(s(w));
  c.height = Math.round(s(h));
  c.style.left = s(x) + 'px';
  c.style.top = s(y) + 'px';
  c.style.width = c.width + 'px';
  c.style.height = c.height + 'px';
  page.appendChild(c);
  return c;
}

function label(str, x, y, size, opt) {
  opt = opt || {};
  const d = document.createElement('div');
  d.className = 'lab';
  d.textContent = str;
  d.style.left = s(x) + 'px';
  d.style.top = s(y) + 'px';
  d.style.fontSize = s(size) + 'px';
  if (opt.bold) d.style.fontWeight = 'bold';
  d.style.transform = opt.left ? 'translateY(-50%)' : 'translate(-50%,-50%)';
  page.appendChild(d);
}

function box(x, y, w, h, css) {
  const d = document.createElement('div');
  d.style.position = 'absolute';
  d.style.boxSizing = 'border-box';
  d.style.left = s(x) + 'px';
  d.style.top = s(y) + 'px';
  d.style.width = s(w) + 'px';
  d.style.height = s(h) + 'px';
  Object.assign(d.style, css);
  page.appendChild(d);
}

function fmt(v) { return String(Math.round(v * 10) / 10); }

// ---------- trajectory panels ----------
const dashDot = [18, 41, 0.5, 44].map(s);
const xTicks = years.map(Number).concat(years.map(y => Number(y) + 14));

function spaghetti(o) {
  const L = o.left, T = 93, B = 1164.5;
  const lo = o.ticks[0];
  const off = o.ticks[o.ticks.length - 1] - lo;
  const cv = makeCanvas(L - 218, 0, 1484, 1340);
  const quads = [{k: 'g', dx: 0, dy: off}, {k: 'c', dx: 14, dy: off}, {k: 'pk', dx: 0, dy: 0}, {k: 'o', dx: 14, dy: 0}];
  const ds = [];
  quads.forEach(q => {
    const band = o.bands[q.k];
    if (band) {
      const iLo = ds.length;
      ds.push({data: band[1].map((v, i) => ({x: 2005.5 + i + q.dx, y: v + q.dy})),
               borderWidth: 0, pointRadius: 0, fill: false, order: 9, clip: 0});
      ds.push({data: band[0].map((v, i) => ({x: 2005.5 + i + q.dx, y: v + q.dy})),
               borderWidth: 0, pointRadius: 0, fill: iLo, backgroundColor: lineCol[q.k], order: 9, clip: 0});
    }
    o.lines[q.k].forEach(ln => ds.push({
      data: ln.map(p => ({x: p[0] + q.dx, y: p[1] + q.dy})),
      borderColor: lineCol[q.k], borderWidth: s(3.6), borderJoinStyle: 'round',
      pointRadius: 0, fill: false, order: 5, clip: 0
    }));
    ['c', 'g', 'o', 'pk'].forEach(k => {
      const own = k === q.k;
      ds.push({
        data: o.means[k].map((v, i) => ({x: 2005 + i + q.dx, y: v + q.dy})),
        borderColor: meanCol[k], borderWidth: s(10), borderDash: own ? [] : dashDot,
        borderCapStyle: 'round', borderJoinStyle: 'round', cubicInterpolationMode: 'monotone',
        pointRadius: 0, fill: false, order: own ? 0 : 1, clip: 0
      });
    });
  });

  const tickGrid = {drawOnChartArea: false, drawTicks: true, tickLength: s(31), tickWidth: s(4.5), lineWidth: s(4.5), tickColor: '#000', color: '#000'};
  const yRange = {min: lo - 0.08 * off, max: lo + 2.08 * off};

  new Chart(cv, {
    type: 'line',
    data: {datasets: ds},
    options: {
      responsive: false, devicePixelRatio: 1, animation: false, events: [],
      layout: {padding: {top: s(T), left: 0, right: 0, bottom: 0}},
      plugins: {legend: {display: false}, tooltip: {enabled: false}},
      scales: {
        x: {
          type: 'linear', min: 2005 - 1.12, max: 2033 + 1.12,
          afterBuildTicks: sc => { sc.ticks = xTicks.map(v => ({value: v})); },
          afterFit: sc => { sc.height = s(1340 - B); },
          ticks: {autoSkip: false, minRotation: 90, maxRotation: 90, padding: s(31), labelOffset: s(17.6),
                  font: {size: s(36), lineHeight: 1}, callback: v => years[(v - 2005) % 14]},
          grid: tickGrid, border: {display: false}
        },
        y: Object.assign({
          type: 'linear', position: 'left',
          afterBuildTicks: sc => { sc.ticks = o.ticks.map(v => ({value: v})); },
          afterFit: sc => { sc.width = s(218); },
          ticks: {padding: s(30), font: {size: s(47), lineHeight: 1}, callback: v => fmt(v)},
          grid: tickGrid, border: {display: false}
        }, yRange),
        y2: Object.assign({
          type: 'linear', position: 'right',
          afterBuildTicks: sc => { sc.ticks = o.ticks.map(v => ({value: v + off})); },
          afterFit: sc => { sc.width = s(200); },
          ticks: {padding: s(30), font: {size: s(47), lineHeight: 1}, callback: v => fmt(v - off)},
          grid: tickGrid, border: {display: false}
        }, yRange)
      }
    },
    plugins: [{
      id: 'quadrants',
      afterDatasetsDraw(chart) {
        const {ctx, chartArea: a, scales} = chart;
        const xm = scales.x.getPixelForValue(2019);
        const ym = scales.y.getPixelForValue(lo + off);
        ctx.save();
        ctx.strokeStyle = '#555555';
        ctx.lineWidth = s(8.5);
        ctx.beginPath();
        ctx.moveTo(xm, a.top); ctx.lineTo(xm, a.bottom);
        ctx.moveTo(a.left, ym); ctx.lineTo(a.right, ym);
        ctx.stroke();
        ctx.strokeStyle = '#000';
        ctx.lineWidth = s(4.5);
        ctx.strokeRect(a.left, a.top, a.right - a.left, a.bottom - a.top);
        ctx.restore();
      }
    }]
  });

  // legends of the four clusters
  const R = L + 1066;
  const lg = (x, y, w, col, txt) => {
    box(x, y, w, 90, {background: '#fff', border: s(4.5) + 'px solid #000'});
    box(x + 32, y + 40, 72, 10, {background: col, borderRadius: s(5) + 'px'});
    label(txt, x + 135, y + 45, 37, {left: true});
  };
  lg(L, T, 289, meanCol.g, clusterShares[0]);
  lg(R - 269, T, 269, meanCol.c, clusterShares[1]);
  lg(L, B - 90, 267, meanCol.pk, clusterShares[2]);
  lg(R - 290, B - 90, 290, meanCol.o, clusterShares[3]);
  box(L + 320, 583.5, 426, 90, {background: '#fff', border: s(4.5) + 'px solid #000'});
  box(L + 353, 619.5, 18, 18, {background: '#b3b3b3', border: s(3.5) + 'px solid #5a5a5a'});
  label(unclassified, L + 389, 628.5, 37, {left: true});

  label(o.title, L + 533, 50, 37.5, {bold: true});
  label('Time', L + 533, 1374, 48);
}

spaghetti({
  left: 218, title: 'Log(Equivalised total disposable income)', ticks: incTicks,
  means: {g: incMeanGreen, c: incMeanCyan, o: incMeanOlive, pk: incMeanPink},
  bands: {g: [incBandGreenHi, incBandGreenLo], c: [incBandCyanHi, incBandCyanLo], o: [incBandOliveHi, incBandOliveLo]},
  lines: {g: incLinesGreen, c: incLinesCyan, pk: incLinesPink, o: incLinesOlive}
});
spaghetti({
  left: 1641, title: 'Log(Lowest income to make ends meet)', ticks: lowTicks,
  means: {g: lowMeanGreen, c: lowMeanCyan, o: lowMeanOlive, pk: lowMeanPink},
  bands: {g: [lowBandGreenHi, lowBandGreenLo], c: [lowBandCyanHi, lowBandCyanLo], o: [lowBandOliveHi, lowBandOliveLo]},
  lines: {g: lowLinesGreen, c: lowLinesCyan, pk: lowLinesPink, o: lowLinesOlive}
});

// ---------- mosaic panels ----------
function mosaic(o) {
  const W = 858.5, rowH = 227.5, pitch = 239.2;
  const top = o.top, left = o.left;
  const pinkBottom = top + 3 * pitch + rowH;
  const chartBottom = pinkBottom + 84.5;
  const unit = rowH / 100;
  const cvTop = top - 60;
  const cv = makeCanvas(left - 45.5, cvTop, W + 91, chartBottom - cvTop + 165);
  const bases = [3, 2, 1, 0].map(i => i * pitch / unit);
  const ds = [];
  o.rows.forEach((row, r) => {
    const nCat = row[0].length;
    for (let c = 0; c < nCat; c++) {
      ds.push({
        data: row.map(sh => {
          const tot = sh.reduce((a, b) => a + b, 0);
          let below = 0;
          for (let j = 0; j < c; j++) below += sh[j];
          return [bases[r] + 100 * below / tot, bases[r] + 100 * (below + sh[c]) / tot];
        }),
        backgroundColor: o.pal[r][c], borderWidth: 0, grouped: false,
        barPercentage: 1, categoryPercentage: 1
      });
    }
  });

  new Chart(cv, {
    type: 'bar',
    data: {labels: years, datasets: ds},
    options: {
      responsive: false, devicePixelRatio: 1, animation: false, events: [],
      layout: {padding: {left: s(45.5), right: s(45.5), top: s(top - cvTop), bottom: 0}},
      plugins: {legend: {display: false}, tooltip: {enabled: false}},
      scales: {
        x: {
          ticks: {autoSkip: false, minRotation: 90, maxRotation: 90, padding: s(32), font: {size: s(36), lineHeight: 1}},
          grid: {offset: true, drawOnChartArea: false, drawTicks: true, tickLength: s(28), tickWidth: s(3.5),
                 lineWidth: s(3.5), tickColor: '#000', color: '#000'},
          border: {display: false},
          afterFit: sc => { sc.height = s(165); }
        },
        y: {display: false, min: -84.5 / unit, max: bases[0] + 100}
      }
    },
    plugins: [{
      id: 'cells',
      afterDatasetsDraw(chart) {
        const {ctx, chartArea: a, scales} = chart;
        ctx.save();
        ctx.strokeStyle = '#000';
        ctx.lineWidth = s(3.2);
        chart.data.datasets.forEach((d, i) => {
          chart.getDatasetMeta(i).data.forEach(el => {
            const p = el.getProps(['x', 'y', 'base', 'width'], true);
            ctx.strokeRect(p.x - p.width / 2, Math.min(p.y, p.base), p.width, Math.abs(p.base - p.y));
          });
        });
        ctx.lineWidth = s(4.5);
        bases.forEach(b => {
          const y1 = scales.y.getPixelForValue(b + 100), y0 = scales.y.getPixelForValue(b);
          ctx.strokeRect(a.left, y1, a.right - a.left, y0 - y1);
        });
        ctx.lineWidth = s(3);
        ctx.strokeRect(a.left - s(34.5), a.top - s(46.4), a.right - a.left + s(69), a.bottom - a.top + s(43.4));
        ctx.restore();
      }
    }]
  });

  const ly = pinkBottom + 30;
  o.legend.forEach((t, i) => {
    const x = left + o.legendX[i];
    box(x, ly - 15.5, 31, 31, {background: o.greys[i], border: s(3.5) + 'px solid #000'});
    label(t, x + 47, ly, 36, {left: true});
  });
  label(o.title, left + W / 2, top - 89.4, 37.5, {bold: true});
  label('Time', left + W / 2, top + 1235.6, 48);
}

const yesNo = arr => arr.map(v => [v, 100 - v]);
const leg2 = [269.5, 554.5], leg3 = [198, 413, 627], leg6 = [21.2, 168, 315, 462, 609, 756];
const col1 = 85.5, col2 = 1033.6, col3 = 1982.4, rowA = 1538.4, rowB = 2937.9;

mosaic({left: col1, top: rowA, title: 'Affordability of a one week holiday', pal: pal2, greys: greys2,
        legend: ['No', 'Yes'], legendX: leg2,
        rows: [yesNo(holidayNoCyan), yesNo(holidayNoGreen), yesNo(holidayNoOlive), yesNo(holidayNoPink)]});
mosaic({left: col2, top: rowA, title: 'Afford to pay unexpected expenses', pal: pal2, greys: greys2,
        legend: ['No', 'Yes'], legendX: leg2,
        rows: [yesNo(expensesNoCyan), yesNo(expensesNoGreen), yesNo(expensesNoOlive), yesNo(expensesNoPink)]});
mosaic({left: col3, top: rowA, title: 'Ability to make ends meet', pal: pal6, greys: greys6,
        legend: ['1', '2', '3', '4', '5', '6'], legendX: leg6,
        rows: [endsCyan, endsGreen, endsOlive, endsPink]});
mosaic({left: col1, top: rowB, title: 'Financial burden of housing cost', pal: pal3, greys: greys3,
        legend: ['Heavy', 'Slight', 'No'], legendX: leg3,
        rows: [housingCyan, housingGreen, housingOlive, housingPink]});
mosaic({left: col2, top: rowB, title: 'Do you have a computer?', pal: pal3, greys: greys3,
        legend: ['Cannot', 'No', 'Yes'], legendX: leg3,
        rows: [computerCyan, computerGreen, computerOlive, computerPink]});
mosaic({left: col3, top: rowB, title: 'Do you have a car?', pal: pal3, greys: greys3,
        legend: ['Cannot', 'No', 'Yes'], legendX: leg3,
        rows: [carCyan, carGreen, carOlive, carPink]});
</script>
</body>
</html>
